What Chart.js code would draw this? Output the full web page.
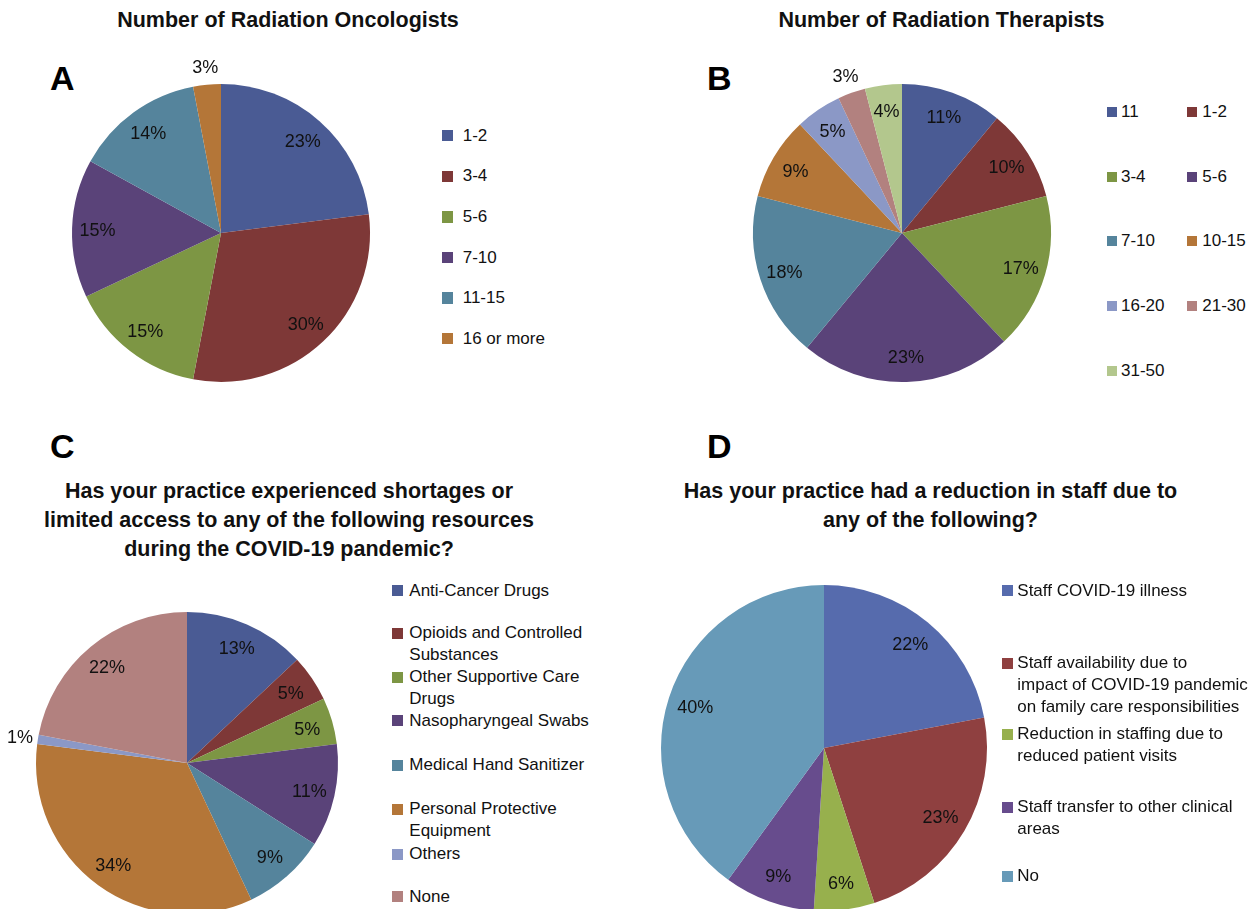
<!DOCTYPE html>
<html><head><meta charset="utf-8">
<script src="https://cdn.jsdelivr.net/npm/chart.js@4.4.0/dist/chart.umd.min.js"></script>
<style>
html,body{margin:0;padding:0;background:#fff;width:1259px;height:909px;overflow:hidden;}
body{position:relative;font-family:"Liberation Sans",Arial,sans-serif;color:#111;}
.title{position:absolute;font-weight:bold;font-size:21.5px;line-height:29px;text-align:center;white-space:pre;transform:translateX(-50%);color:#111;}
.letter{position:absolute;font-weight:bold;font-size:34px;line-height:34px;color:#000;}
.sw{position:absolute;}
.lt{position:absolute;font-size:17px;line-height:22px;white-space:pre;color:#111;}
canvas{position:absolute;}
</style></head><body>
<script>
// ---------- data ----------
const roCategories = ["1-2", "3-4", "5-6", "7-10", "11-15", "16 or more"];
const roValues = [23, 30, 15, 15, 14, 3];

const rtCategories = ["11", "1-2", "3-4", "5-6", "7-10", "10-15", "16-20", "21-30", "31-50"];
const rtValues = [11, 10, 17, 23, 18, 9, 5, 3, 4];

const resCategories = ["Anti-Cancer Drugs", "Opioids and Controlled\nSubstances", "Other Supportive Care\nDrugs",
  "Nasopharyngeal Swabs", "Medical Hand Sanitizer", "Personal Protective\nEquipment", "Others", "None"];
const resValues = [13, 5, 5, 11, 9, 34, 1, 22];

const staffCategories = ["Staff COVID-19 illness",
  "Staff availability due to\nimpact of COVID-19 pandemic\non family care responsibilities",
  "Reduction in staffing due to\nreduced patient visits",
  "Staff transfer to other clinical\nareas", "No"];
const staffValues = [22, 23, 6, 9, 40];

const titleA = "Number of Radiation Oncologists";
const titleB = "Number of Radiation Therapists";
const titleC = "Has your practice experienced shortages or\nlimited access to any of the following resources\nduring the COVID-19 pandemic?";
const titleD = "Has your practice had a reduction in staff due to\nany of the following?";

// ---------- styles ----------
const paletteDark = ['#4A5B94', '#7E3837', '#7D9644', '#5A4379', '#55849C', '#B47638', '#8B98C6', '#B2817F', '#B3C78D'];
const paletteD = ['#566BAD', '#8F4040', '#97B04D', '#674C8D', '#679AB8'];

const pctLabels = {
  id: 'pctLabels',
  afterDatasetsDraw(chart, args, opts) {
    const ctx = chart.ctx;
    const meta = chart.getDatasetMeta(0);
    const vals = chart.data.datasets[0].data;
    ctx.save();
    ctx.font = opts.font;
    ctx.fillStyle = opts.color;
    ctx.textAlign = 'center';
    ctx.textBaseline = 'alphabetic';
    meta.data.forEach((arc, i) => {
      const p = arc.getProps(['x', 'y', 'startAngle', 'endAngle', 'outerRadius'], true);
      const mid = (p.startAngle + p.endAngle) / 2;
      const f = vals[i] <= opts.outsideMax ? opts.outside : opts.inside;
      const x = p.x + Math.cos(mid) * p.outerRadius * f;
      const y = p.y + Math.sin(mid) * p.outerRadius * f;
      ctx.fillText(vals[i] + '%', x, y + opts.size * 0.36);
    });
    ctx.restore();
  }
};

function addDiv(cls, text, left, top) {
  const d = document.createElement('div');
  d.className = cls;
  d.textContent = text;
  d.style.left = left + 'px';
  d.style.top = top + 'px';
  document.body.appendChild(d);
  return d;
}

function makePie(cats, vals, colors, cx, cy, r) {
  const pad = 34;
  const size = 2 * (r + pad);
  const c = document.createElement('canvas');
  c.width = size; c.height = size;
  c.style.left = (cx - r - pad) + 'px';
  c.style.top = (cy - r - pad) + 'px';
  c.style.width = size + 'px'; c.style.height = size + 'px';
  document.body.appendChild(c);
  new Chart(c.getContext('2d'), {
    type: 'pie',
    data: { labels: cats, datasets: [{ data: vals, backgroundColor: colors.slice(0, vals.length), borderWidth: 0 }] },
    options: {
      responsive: false, animation: false, devicePixelRatio: 1,
      layout: { padding: pad },
      plugins: {
        legend: { display: false }, tooltip: { enabled: false }, title: { display: false },
        pctLabels: { font: '18px "Liberation Sans", Arial, sans-serif', size: 18, color: '#111', inside: 0.83, outside: 1.12, outsideMax: 3 }
      }
    },
    plugins: [pctLabels]
  });
}

function makeLegend(cats, colors, sq, positions) {
  cats.forEach((t, i) => {
    const p = positions(i);
    const s = document.createElement('div');
    s.className = 'sw';
    s.style.left = p.sx + 'px';
    s.style.top = (p.y - sq / 2) + 'px';
    s.style.width = sq + 'px'; s.style.height = sq + 'px';
    s.style.background = colors[i];
    document.body.appendChild(s);
    addDiv('lt', t, p.tx, p.y - 11);
  });
}

// Titles and panel letters
addDiv('title', titleA, 288, 5.5);
addDiv('title', titleB, 941.5, 5.5);
addDiv('title', titleC, 289, 476.5);
addDiv('title', titleD, 930.5, 476.5);
addDiv('letter', 'A', 50, 60.5);
addDiv('letter', 'B', 707, 60.5);
addDiv('letter', 'C', 50, 429);
addDiv('letter', 'D', 707, 429);

// Pies
makePie(roCategories, roValues, paletteDark, 221, 233, 149);
makePie(rtCategories, rtValues, paletteDark, 902, 233, 149);
makePie(resCategories, resValues, paletteDark, 187, 763, 151);
makePie(staffCategories, staffValues, paletteD, 824, 748, 163);

// Legends
makeLegend(roCategories, paletteDark, 11.5, i => ({ sx: 441.7, tx: 462.7, y: 135.7 + i * 40.6 }));
makeLegend(rtCategories, paletteDark, 10, i => ({
  sx: [1106.7, 1186.7][i % 2], tx: [1121, 1202.3][i % 2], y: 111.7 + Math.floor(i / 2) * 64.8
}));
const resRows = [590.7, 633.3, 677.3, 720.7, 765, 809.3, 854, 896.7];
makeLegend(resCategories, paletteDark, 11, i => ({ sx: 391.7, tx: 409.3, y: resRows[i] }));
const staffRows = [590.7, 663.3, 734, 807.3, 876];
makeLegend(staffCategories, paletteD, 11, i => ({ sx: 1001.7, tx: 1017.3, y: staffRows[i] }));
</script>
</body></html>
